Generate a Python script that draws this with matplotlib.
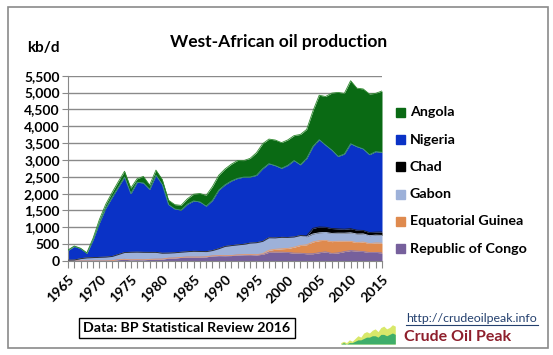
import numpy as np
import matplotlib
matplotlib.use("Agg")
import matplotlib.pyplot as plt
from matplotlib.patches import Rectangle

# values (kb/d), 1965-2015
years = list(range(1965, 2016))

congo = [1, 1, 1, 1, 0, 0, 1, 7, 40, 50,
         36, 40, 36, 48, 54, 56, 84, 89, 106, 118,
         116, 117, 124, 152, 160, 158, 161, 178, 185, 188,
         180, 199, 259, 265, 263, 254, 234, 231, 215, 216,
         246, 272, 225, 241, 279, 310, 295, 281, 252, 255,
         241]
eq_guinea = [0, 0, 0, 0, 0, 0, 0, 0, 0, 0,
             0, 0, 0, 0, 0, 0, 0, 0, 0, 0,
             0, 0, 0, 0, 0, 0, 0, 4, 5, 5,
             7, 17, 60, 84, 100, 119, 177, 230, 266, 351,
             358, 342, 350, 347, 307, 274, 252, 283, 264, 281,
             289]
gabon = [25, 28, 68, 92, 100, 109, 115, 126, 151, 202,
         223, 223, 222, 209, 203, 175, 151, 155, 155, 157,
         172, 167, 154, 157, 204, 274, 295, 296, 306, 339,
         356, 366, 370, 337, 340, 327, 301, 295, 240, 235,
         234, 235, 245, 240, 241, 255, 254, 242, 236, 233,
         232]
chad = [0, 0, 0, 0, 0, 0, 0, 0, 0, 0,
        0, 0, 0, 0, 0, 0, 0, 0, 0, 0,
        0, 0, 0, 0, 0, 0, 0, 0, 0, 0,
        0, 0, 0, 0, 0, 0, 0, 0, 24, 168,
        173, 153, 144, 127, 118, 122, 114, 101, 94, 88,
        100]
nigeria = [287, 403, 300, 135, 530, 1020, 1450, 1750, 2000, 2240,
           1740, 2075, 2060, 1870, 2290, 2040, 1440, 1300, 1250, 1410,
           1495, 1470, 1350, 1490, 1740, 1830, 1920, 1975, 1995, 1960,
           2000, 2160, 2200, 2145, 2050, 2140, 2270, 2100, 2300, 2430,
           2590, 2440, 2330, 2150, 2230, 2520, 2480, 2420, 2310, 2390,
           2365]
angola = [13, 13, 10, 15, 49, 103, 115, 143, 162, 172,
          165, 103, 193, 124, 151, 150, 131, 129, 140, 160,
          200, 250, 320, 410, 440, 470, 497, 530, 490, 555,
          670, 740, 730, 760, 760, 755, 740, 900, 860, 1050,
          1320, 1440, 1690, 1900, 1800, 1870, 1735, 1780, 1800, 1730,
          1820]

# bottom to top
series = [congo, eq_guinea, gabon, chad, nigeria, angola]
colors = ["#76609c", "#df8a4e", "#9db1d9", "#000000", "#0a32c6", "#0a6a14"]
edges = ["#8c7ab0", "#e9a070", "#b4c4e4", "#202020", "#3f8f86", "#2f8a2f"]

legend_names = ["Angola", "Nigeria", "Chad", "Gabon", "Equatorial Guinea", "Republic of Congo"]
legend_colors = ["#0a6a14", "#0a32c6", "#000000", "#9db1d9", "#df8a4e", "#76609c"]

font = ["Lato", "DejaVu Sans"]
plt.rcParams["font.family"] = font
W, H = 553, 355

fig = plt.figure(figsize=(W / 100, H / 100), dpi=100)
ax = fig.add_axes([68 / W, 1 - 261 / H, (382 - 68) / W, (261 - 75.7) / H])

x = np.array(years)
base = np.zeros(len(years))
for vals, c, e in zip(series, colors, edges):
    top = base + np.array(vals)
    ax.fill_between(x, base, top, color=c, lw=0, zorder=2)
    ax.plot(x, top, color=e, lw=0.6, zorder=3)
    base = top

ax.set_xlim(1965, 2015)
ax.set_ylim(0, 5500)
ax.set_yticks(range(0, 5501, 500))
ax.set_yticklabels([f"{v:,}" for v in range(0, 5501, 500)], fontsize=10, fontweight="bold")
ax.set_xticks(years)
ax.set_xticklabels([str(y) if y % 5 == 0 else "" for y in years], rotation=45,
                   ha="right", va="top", rotation_mode="anchor",
                   fontsize=10, fontweight="bold")
ax.tick_params(axis="x", length=5, color="#888888", pad=4)
ax.tick_params(axis="y", length=4, color="#888888", pad=2)
ax.grid(axis="y", color="#8a8a8a", lw=1, zorder=1)
ax.set_axisbelow(True)
for s in ["top", "right"]:
    ax.spines[s].set_visible(False)
ax.spines["left"].set_color("#888888")
ax.spines["bottom"].set_color("#888888")

fig.text(279 / W, 1 - 42 / H, "West-African oil production", ha="center", va="center",
         fontsize=12.5, fontweight="bold")
fig.text(43 / W, 1 - 48 / H, "kb/d", ha="center", va="center", fontsize=11, fontweight="bold")

# legend
for i, (name, c) in enumerate(zip(legend_names, legend_colors)):
    yc = 112.3 + i * 27.3
    fig.patches.append(Rectangle((396 / W, 1 - (yc + 4.5) / H), 9 / W, 9 / H,
                                 transform=fig.transFigure, color=c))
    fig.text(410 / W, 1 - yc / H, name, ha="left", va="center", fontsize=10.3, fontweight="bold")

# source box
fig.text(187 / W, 1 - 328 / H, "Data: BP Statistical Review 2016", ha="center", va="center",
         fontsize=10.2, fontweight="bold",
         bbox=dict(boxstyle="square,pad=0.3", fc="white", ec="black", lw=1))

# logo
fig.text(406 / W, 1 - 318 / H, "http://crudeoilpeak.info", ha="left", va="center",
         fontsize=8.9, color="#24406e")
fig.add_artist(plt.Line2D([406 / W, 538 / W], [1 - 324.5 / H, 1 - 324.5 / H], color="#24406e", lw=0.8))
fig.text(404 / W, 1 - 337 / H, "Crude Oil Peak", ha="left", va="center",
         fontsize=11.5, fontweight="bold", color="#8e1f2c")
logo = fig.add_axes([338 / W, 1 - 344 / H, 60 / W, 22 / H])
logo_a = [1, 2, 1, 3, 2, 4, 6, 5, 8, 9, 8, 10, 11, 9, 12, 13, 11, 12, 14, 13]
logo_b = [0, 1, 0, 1, 1, 2, 3, 3, 4, 5, 5, 6, 6, 5, 7, 7, 6, 7, 8, 7]
logo.fill_between(range(len(logo_a)), 0, logo_a, color="#d8e86a", lw=0)
logo.fill_between(range(len(logo_b)), 0, logo_b, color="#3fae6a", lw=0)
logo.set_ylim(0, 16)
logo.axis("off")

# outer border
fig.patches.append(Rectangle((7.5 / W, 1 - 348 / H), (548 - 7.5) / W, (348 - 6.5) / H,
                             transform=fig.transFigure, fill=False, ec="#8a8a8a", lw=1.2))

fig.savefig("out.png", dpi=100)
